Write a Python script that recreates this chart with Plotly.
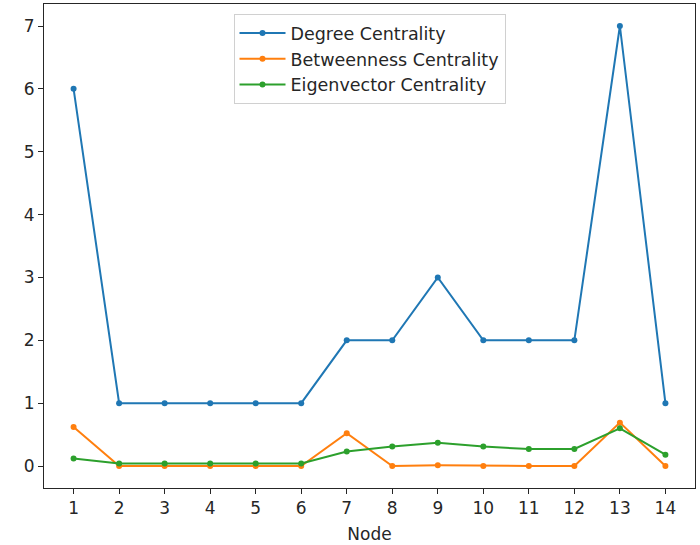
import plotly.graph_objects as go

nodes = list(range(1, 15))
degree = [6, 1, 1, 1, 1, 1, 2, 2, 3, 2, 2, 2, 7, 1]
betweenness = [0.62, 0.0, 0.0, 0.0, 0.0, 0.0, 0.52, 0.0, 0.01, 0.0, 0.0, 0.0, 0.69, 0.0]
eigenvector = [0.12, 0.04, 0.04, 0.04, 0.04, 0.04, 0.23, 0.31, 0.37, 0.31, 0.27, 0.27, 0.60, 0.18]

series = [
    ("Degree Centrality", degree, "#1f77b4"),
    ("Betweenness Centrality", betweenness, "#ff7f0e"),
    ("Eigenvector Centrality", eigenvector, "#2ca02c"),
]

fig = go.Figure()
for name, vals, col in series:
    fig.add_trace(go.Scatter(
        x=nodes, y=vals, name=name, mode="lines+markers",
        line=dict(color=col, width=2),
        marker=dict(color=col, size=6),
    ))

font = dict(family="DejaVu Sans", size=17, color="#262626")
axis_common = dict(
    showline=True, linecolor="#262626", linewidth=1, mirror=True,
    ticks="outside", ticklen=5, tickcolor="#262626",
    showgrid=False, zeroline=False, tickfont=font, automargin=False,
)
fig.update_layout(
    width=700, height=545,
    margin=dict(l=44, r=5, t=4, b=57, autoexpand=False),
    plot_bgcolor="white", paper_bgcolor="white",
    font=font,
    xaxis=dict(range=[0.35, 14.65], tickmode="array", tickvals=nodes,
               title=dict(text="Node", font=font, standoff=10), **axis_common),
    yaxis=dict(range=[-0.35, 7.35], tickmode="array", tickvals=list(range(0, 8)),
               **axis_common),
    legend=dict(x=0.5, y=0.979, xanchor="center", yanchor="top",
                bordercolor="#d0d0d0", borderwidth=1, bgcolor="white",
                font=dict(family="DejaVu Sans", size=17.5, color="#262626"),
                itemwidth=46),
    showlegend=True,
)

fig.write_html("out.html", config={"displayModeBar": False},
               post_script="document.body.style.margin='0';document.body.style.padding='0';")
